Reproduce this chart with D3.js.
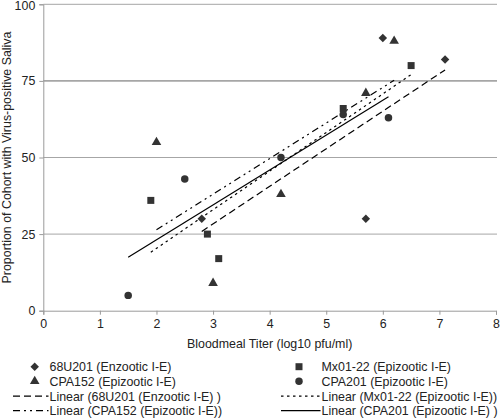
<!DOCTYPE html>
<html><head><meta charset="utf-8">
<script src="https://cdn.jsdelivr.net/npm/d3@7"></script>
<style>body{margin:0;background:#fff}svg{display:block}text{font-family:"Liberation Sans",Arial,sans-serif;fill:#222}</style>
</head><body><svg id="c" width="500" height="418"></svg>
<script>
const xTicks = [0,1,2,3,4,5,6,7,8];
const yTicks = [0,25,50,75,100];
const seriesNames = ["68U201 (Enzootic I-E)","Mx01-22 (Epizootic I-E)","CPA152 (Epizootic I-E)","CPA201 (Epizootic I-E)"];
const s68U201_x = [2.8,5.7,6.0,7.1];
const s68U201_y = [30,30,89,82];
const sMx0122_x = [1.9,2.9,3.1,5.3,6.5];
const sMx0122_y = [36,25,17,66,80];
const sCPA152_x = [2.0,3.0,4.2,5.7,6.2];
const sCPA152_y = [55,9,38,71,88];
const sCPA201_x = [1.5,2.5,4.2,5.3,6.1];
const sCPA201_y = [5,43,50,64,63];
const trendLabels = ["Linear (68U201 (Enzootic I-E) )","Linear (Mx01-22 (Epizootic I-E))","Linear (CPA152 (Epizootic I-E))","Linear (CPA201 (Epizootic I-E) )"];

const FS = 12.4;
const diamond = {draw(ctx,size){const r=Math.sqrt(size)/Math.SQRT2; ctx.moveTo(0,-r);ctx.lineTo(r,0);ctx.lineTo(0,r);ctx.lineTo(-r,0);ctx.closePath();}};
const series = [
  {name:seriesNames[0], xs:s68U201_x, ys:s68U201_y, sym:diamond, size:36, dash:"7,4", trend:trendLabels[0]},
  {name:seriesNames[1], xs:sMx0122_x, ys:sMx0122_y, sym:d3.symbolSquare, size:49, dash:"2.5,3.5", trend:trendLabels[1]},
  {name:seriesNames[2], xs:sCPA152_x, ys:sCPA152_y, sym:d3.symbolTriangle, size:40, dash:"7,4,2,4,2,4", trend:trendLabels[2]},
  {name:seriesNames[3], xs:sCPA201_x, ys:sCPA201_y, sym:d3.symbolCircle, size:44, dash:null, trend:trendLabels[3]}
];

const svg = d3.select("#c");
const x = d3.scaleLinear().domain([0,8]).range([43.3,496]);
const y = d3.scaleLinear().domain([0,100]).range([310.7,4.3]);

// gridlines
svg.append("g").selectAll("line").data(yTicks.filter(d=>d>0)).join("line")
  .attr("x1",x(0)).attr("x2",x(8)+1).attr("y1",d=>y(d)).attr("y2",d=>y(d))
  .attr("stroke","#a6a6a6").attr("stroke-width",d=>d===75?1.6:1);

// axes
const gx = svg.append("g").attr("transform",`translate(0,${y(0)})`)
  .call(d3.axisBottom(x).tickValues(xTicks).tickSize(4).tickPadding(5));
const gy = svg.append("g").attr("transform",`translate(${x(0)},0)`)
  .call(d3.axisLeft(y).tickValues(yTicks).tickSize(4).tickPadding(4));
[gx,gy].forEach(g=>{
  g.select(".domain").attr("stroke","#9a9a9a");
  g.selectAll(".tick line").attr("stroke","#9a9a9a");
  g.selectAll("text").attr("font-size",FS).attr("font-family","Liberation Sans, Arial, sans-serif").attr("fill","#222");
});
gy.selectAll(".tick text").filter(d=>d===100).attr("dy","0.4em");

svg.append("text").attr("x",(x(0)+x(8))/2).attr("y",347.8).attr("text-anchor","middle").attr("font-size",FS).text("Bloodmeal Titer (log10 pfu/ml)");
svg.append("text").attr("transform",`translate(10.5,${(y(0)+y(100))/2}) rotate(-90)`).attr("text-anchor","middle").attr("font-size",FS).text("Proportion of Cohort with Virus-positive Saliva");

// trendlines (least squares, spanning data range)
function fit(xs,ys){
  const mx=d3.mean(xs), my=d3.mean(ys);
  let sxy=0,sxx=0; xs.forEach((v,i)=>{sxy+=(v-mx)*(ys[i]-my); sxx+=(v-mx)*(v-mx);});
  const b=sxy/sxx, a=my-b*mx; const x0=d3.min(xs), x1=d3.max(xs);
  return [[x0,a+b*x0],[x1,a+b*x1]];
}
const line = d3.line().x(d=>x(d[0])).y(d=>y(d[1]));
series.forEach(s=>{
  svg.append("path").attr("d",line(fit(s.xs,s.ys))).attr("fill","none").attr("stroke","#000")
    .attr("stroke-width",1.2).attr("stroke-dasharray",s.dash);
});
// markers
series.forEach(s=>{
  svg.append("g").selectAll("path").data(s.xs.map((v,i)=>[v,s.ys[i]])).join("path")
    .attr("transform",d=>`translate(${x(d[0])},${y(d[1])})`)
    .attr("d",d3.symbol().type(s.sym).size(s.size)).attr("fill","#333");
});

// legend
const leg = [
  {kind:"m", s:series[0], col:0, row:0},
  {kind:"m", s:series[1], col:1, row:0},
  {kind:"m", s:series[2], col:0, row:1},
  {kind:"m", s:series[3], col:1, row:1},
  {kind:"l", s:series[0], col:0, row:2},
  {kind:"l", s:series[1], col:1, row:2},
  {kind:"l", s:series[2], col:0, row:3},
  {kind:"l", s:series[3], col:1, row:3}
];
const colX = [[13,49.5,34.7],[281,321.5,299]];
const rowY = [366.7,381.2,396.2,410.7];
leg.forEach(e=>{
  const [lx,tx,mx]=colX[e.col], cy=rowY[e.row];
  if(e.kind==="m"){
    svg.append("path").attr("transform",`translate(${mx},${cy})`)
      .attr("d",d3.symbol().type(e.s.sym).size(e.s.size)).attr("fill","#333");
    svg.append("text").attr("x",tx).attr("y",cy+4.5).attr("font-size",FS).text(e.s.name);
  } else {
    svg.append("line").attr("x1",lx).attr("x2",tx-1).attr("y1",cy).attr("y2",cy)
      .attr("stroke","#000").attr("stroke-width",1.2).attr("stroke-dasharray",e.s.dash);
    svg.append("text").attr("x",tx).attr("y",cy+4.5).attr("font-size",FS).text(e.s.trend);
  }
});
</script></body></html>
